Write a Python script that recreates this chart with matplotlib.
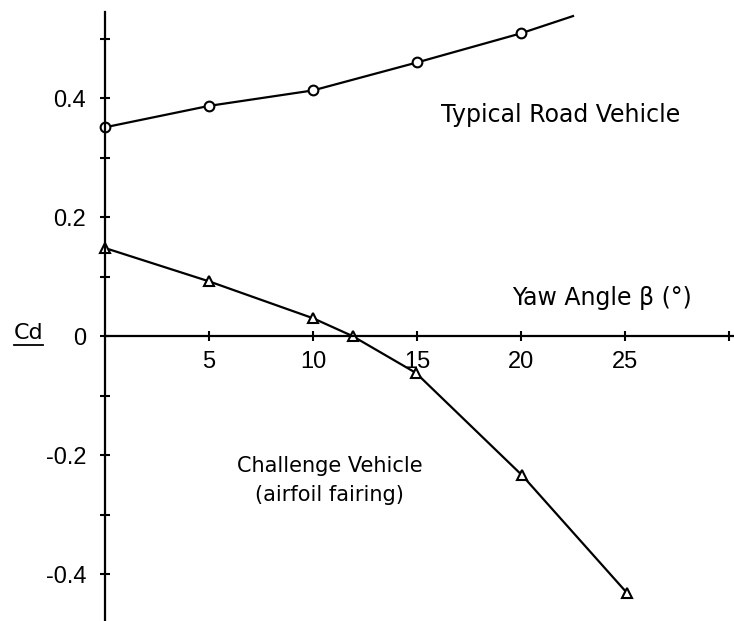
import matplotlib.pyplot as plt
import numpy as np

plt.rcParams['font.family'] = ['DejaVu Sans']

# Typical road vehicle (circles)
road_yaw = [0, 5, 10, 15, 20]
road_cd = [0.351, 0.387, 0.413, 0.46, 0.509]
road_end = (22.5, 0.538)  # line carries on past last marker

# Challenge vehicle with airfoil fairing (triangles)
chal_yaw = [0, 5, 10, 11.9, 14.95, 20.05, 25.1]
chal_cd = [0.148, 0.092, 0.030, 0.0, -0.062, -0.234, -0.432]

xticks = [5, 10, 15, 20, 25, 30]
xtick_labels = ['5', '10', '15', '20', '25', '']
yticks = [-0.4, -0.2, 0, 0.2, 0.4]
ytick_labels = ['-0.4', '-0.2', '0', '0.2', '0.4']
yminor = [-0.3, -0.1, 0.1, 0.3, 0.5]

tick_font = ['Liberation Sans', 'DejaVu Sans']

fig = plt.figure(figsize=(7.34, 6.21), dpi=100)
ax = fig.add_axes([0, 0, 1, 1])
ax.set_xlim(-5.05, 30.24)
ax.set_ylim(-0.479, 0.565)

ax.plot(road_yaw + [road_end[0]], road_cd + [road_end[1]], color='black', lw=1.6)
ax.plot(road_yaw, road_cd, 'o', color='black', mfc='white', ms=7, mew=1.5)
ax.plot(chal_yaw, chal_cd, color='black', lw=1.6)
ax.plot(chal_yaw, chal_cd, '^', color='black', mfc='white', ms=7, mew=1.5)

for s in ['top', 'right']:
    ax.spines[s].set_visible(False)
ax.spines['left'].set_position(('data', 0))
ax.spines['bottom'].set_position(('data', 0))
ax.spines['left'].set_bounds(-0.48, 0.545)
ax.spines['bottom'].set_bounds(0, 30.2)
ax.spines['left'].set_linewidth(1.6)
ax.spines['bottom'].set_linewidth(1.6)

ax.set_xticks(xticks)
ax.set_xticklabels(xtick_labels, family=tick_font)
ax.set_yticks(yticks)
ax.set_yticklabels(ytick_labels, family=tick_font)
ax.set_yticks(yminor, minor=True)
ax.tick_params(axis='both', which='both', direction='inout', length=7, width=1.5,
               labelsize=17, pad=7)
ax.tick_params(axis='y', pad=10)

ax.text(21.9, 0.371, 'Typical Road Vehicle', fontsize=17, ha='center', va='center')
ax.text(23.9, 0.064, 'Yaw Angle β (°)', fontsize=17, ha='center', va='center')
ax.text(10.8, -0.218, 'Challenge Vehicle', fontsize=15, ha='center', va='center')
ax.text(10.8, -0.267, '(airfoil fairing)', fontsize=15, ha='center', va='center')
ax.text(-3.7, 0.005, 'Cd', fontsize=16, ha='center', va='center')
ax.plot([-4.4, -3.0], [-0.015, -0.015], color='black', lw=1.3, clip_on=False)

fig.savefig('out.png', dpi=100)
